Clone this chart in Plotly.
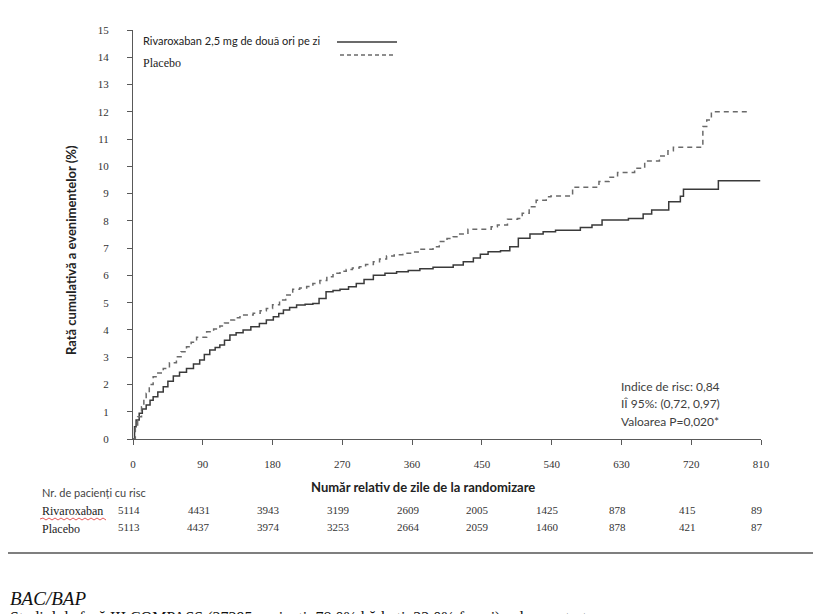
import plotly.graph_objects as go

# ---------------- data ----------------
riva_days = [0, 2, 4, 8, 12, 17, 22, 26, 32, 39, 45, 52, 60, 69, 78, 86, 92, 99, 106, 112, 118, 125,
             133, 142, 152, 163, 172, 181, 188, 194, 202, 211, 222, 232, 240, 249, 258, 267, 278, 288,
             298, 310, 325, 340, 355, 370, 387, 413, 426, 439, 448, 458, 474, 486, 497, 512, 529, 545,
             577, 592, 605, 639, 658, 669, 691, 706, 710, 755, 809]
riva_rate = [0, 0.45, 0.7, 0.94, 1.1, 1.25, 1.42, 1.55, 1.72, 1.92, 2.12, 2.31, 2.45, 2.59, 2.75, 2.9,
             3.1, 3.26, 3.36, 3.45, 3.62, 3.81, 3.9, 4.0, 4.12, 4.24, 4.36, 4.48, 4.6, 4.73, 4.82, 4.91,
             4.94, 4.97, 5.15, 5.4, 5.45, 5.49, 5.58, 5.7, 5.85, 6.01, 6.08, 6.13, 6.18, 6.24, 6.3, 6.38,
             6.5, 6.64, 6.78, 6.87, 6.9, 7.05, 7.36, 7.52, 7.6, 7.66, 7.76, 7.85, 8.03, 8.09, 8.25, 8.4,
             8.7, 8.9, 9.16, 9.47, 9.47]

plac_days = [0, 3, 6, 11, 14, 17, 21, 26, 32, 39, 47, 56, 62, 69, 75, 82, 95, 104, 112, 118, 125, 131,
             138, 155, 164, 172, 180, 189, 197, 206, 215, 224, 232, 241, 250, 258, 267, 275, 283, 292,
             300, 310, 318, 327, 337, 348, 360, 370, 387, 395, 405, 413, 420, 432, 452, 462, 470, 483,
             496, 502, 511, 520, 533, 539, 556, 567, 592, 601, 614, 625, 638, 647, 660, 673, 679, 690,
             697, 729, 735, 740, 746, 796]
plac_rate = [0, 0.4, 0.82, 1.18, 1.45, 1.68, 2.0, 2.28, 2.42, 2.59, 2.8, 3.02, 3.2, 3.38, 3.55, 3.73,
             3.93, 4.03, 4.14, 4.25, 4.36, 4.45, 4.55, 4.61, 4.7, 4.79, 4.92, 5.1, 5.28, 5.49, 5.54, 5.59,
             5.7, 5.81, 5.95, 6.08, 6.15, 6.22, 6.27, 6.32, 6.4, 6.5, 6.6, 6.71, 6.76, 6.81, 6.86, 6.96,
             7.05, 7.24, 7.35, 7.42, 7.52, 7.69, 7.69, 7.78, 7.85, 8.06, 8.09, 8.28, 8.52, 8.76, 8.88,
             8.91, 8.91, 9.23, 9.23, 9.44, 9.6, 9.77, 9.77, 9.93, 10.2, 10.2, 10.38, 10.57, 10.7, 10.7,
             11.46, 11.7, 12.0, 12.0]

x_ticks = [0, 90, 180, 270, 360, 450, 540, 630, 720, 810]
y_ticks = list(range(0, 16))
risk_riva = [5114, 4431, 3943, 3199, 2609, 2005, 1425, 878, 415, 89]
risk_plac = [5113, 4437, 3974, 3253, 2664, 2059, 1460, 878, 421, 87]

label_riva = "Rivaroxaban 2,5 mg de două ori pe zi"
label_plac = "Placebo"
stats_lines = ["Indice de risc: 0,84", "IÎ 95%: (0,72, 0,97)", "Valoarea P=0,020*"]

# ---------------- layout geometry ----------------
W, H = 813, 614
L, R, T, B = 133, 52, 30, 175
PW, PH = W - L - R, H - T - B


def px(x):
    return (x - L) / PW


def py(y):
    return (H - B - y) / PH


SERIF = "Liberation Serif"
SANS = "Lato"
AXIS_COL = "#595959"

fig = go.Figure()
fig.add_trace(go.Scatter(x=riva_days, y=riva_rate, mode="lines", line_shape="hv",
                         line=dict(color="#3a3a3a", width=1.5), showlegend=False, name=label_riva))
fig.add_trace(go.Scatter(x=plac_days, y=plac_rate, mode="lines", line_shape="hv",
                         line=dict(color="#6a6a6a", width=1.5, dash="5px,4px"), showlegend=False,
                         name=label_plac))

fig.update_layout(
    width=W, height=H,
    margin=dict(l=L, r=R, t=T, b=B, pad=0),
    paper_bgcolor="white", plot_bgcolor="white",
    xaxis=dict(range=[0, 810], tickvals=x_ticks, ticktext=[str(v) for v in x_ticks],
               showgrid=False, zeroline=False, showline=True, linecolor=AXIS_COL, linewidth=1,
               ticks="outside", ticklen=5, tickcolor=AXIS_COL, ticklabelstandoff=10,
               tickfont=dict(family=SERIF, size=11, color="#333333")),
    yaxis=dict(range=[0, 15], tickvals=y_ticks, showgrid=False, zeroline=False, showline=True,
               linecolor=AXIS_COL, linewidth=1, ticks="outside", ticklen=5, tickcolor=AXIS_COL,
               ticklabelstandoff=16, tickfont=dict(family=SERIF, size=11, color="#333333")),
)


def note(x, y, text, font, xanchor="left", yanchor="middle", **kw):
    d = dict(x=px(x), y=py(y), xref="paper", yref="paper", text=text, xanchor=xanchor,
             yanchor=yanchor, showarrow=False, font=font)
    d.update(kw)
    return d


ann = []
# axis titles
ann.append(note(71, 250, "<b>Rată cumulativă a evenimentelor (%)</b>",
                dict(family=SANS, size=13, color="#222"), xanchor="center", textangle=-90))
ann.append(note(423, 487, "<b>Număr relativ de zile de la randomizare</b>",
                dict(family=SANS, size=13, color="#222"), xanchor="center"))
# legend
ann.append(note(141, 41, label_riva, dict(family=SANS, size=11, color="#222")))
ann.append(note(141, 63, label_plac, dict(family=SERIF, size=12, color="#222")))
# statistics
for i, s in enumerate(stats_lines):
    ann.append(note(619, 386 + i * 17.5, s, dict(family=SANS, size=12, color="#404040")))
# number at risk table
ann.append(note(40, 492, "Nr. de pacienți cu risc", dict(family=SANS, size=11, color="#444")))
ann.append(note(40, 511, "Rivaroxaban", dict(family=SERIF, size=12, color="#222")))
ann.append(note(40, 529, "Placebo", dict(family=SERIF, size=12, color="#222")))
for d, a, b in zip(x_ticks, risk_riva, risk_plac):
    ann.append(dict(x=d, xref="x", y=py(510), yref="paper", text=str(a), xshift=-4, showarrow=False,
                    xanchor="center", yanchor="middle", font=dict(family=SERIF, size=11, color="#333")))
    ann.append(dict(x=d, xref="x", y=py(527), yref="paper", text=str(b), xshift=-4, showarrow=False,
                    xanchor="center", yanchor="middle", font=dict(family=SERIF, size=11, color="#333")))
# text below
ann.append(note(8, 598, "<i>BAC/BAP</i>", dict(family=SERIF, size=19, color="#111")))
ann.append(note(8, 607, "Studiul de fază III COMPASS (27395 pacienți: 78,0% bărbați, 22,0% femei) a demonstrat",
                dict(family=SERIF, size=16, color="#111"), yanchor="top"))
fig.update_layout(annotations=ann)

shapes = []
shapes.append(dict(type="line", xref="paper", yref="paper", x0=px(337), x1=px(397), y0=py(42), y1=py(42),
                   line=dict(color="#3a3a3a", width=1.3)))
shapes.append(dict(type="line", xref="paper", yref="paper", x0=px(340), x1=px(396), y0=py(55), y1=py(55),
                   line=dict(color="#6a6a6a", width=1.3, dash="4px,3px")))
shapes.append(dict(type="line", xref="paper", yref="paper", x0=px(8), x1=px(813), y0=py(553), y1=py(553),
                   line=dict(color="#7f7f7f", width=2)))
# spell-check squiggle under "Rivaroxaban"
zig = "M {} {}".format(px(40), py(519))
for k in range(1, 23):
    xx = 40 + k * 3
    yy = 518 if k % 2 else 520
    zig += " L {} {}".format(px(xx), py(yy))
shapes.append(dict(type="path", xref="paper", yref="paper", path=zig, line=dict(color="#e03030", width=0.8)))
fig.update_layout(shapes=shapes)

fig.write_html("out.html")
